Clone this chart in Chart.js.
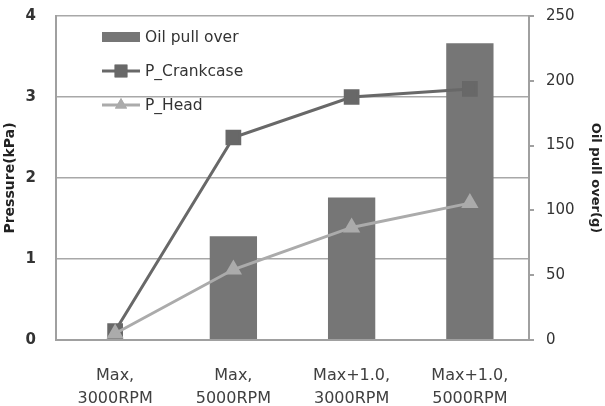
<!DOCTYPE html>
<html>
<head>
<meta charset="utf-8">
<script src="https://cdn.jsdelivr.net/npm/chart.js@4"></script>
<style>
  html, body { margin: 0; padding: 0; background: #fff; }
  #wrap { width: 605px; height: 406px; }
</style>
</head>
<body>
<div id="wrap"><canvas id="chart" width="605" height="406"></canvas></div>
<script>
const categories = [['Max,', '3000RPM'], ['Max,', '5000RPM'], ['Max+1.0,', '3000RPM'], ['Max+1.0,', '5000RPM']];
const oilPullOver = [0, 80, 110, 229];
const pCrankcase = [0.11, 2.5, 3.0, 3.1];
const pHead = [0.08, 0.87, 1.39, 1.69];
const pressureTicks = [0, 1, 2, 3, 4];
const oilTicks = [0, 50, 100, 150, 200, 250];

const FONT = '"DejaVu Sans", sans-serif';

// legend inside the plot, drawn like the original (swatch / line + marker)
const innerLegend = {
  id: 'innerLegend',
  afterDatasetsDraw(chart) {
    const ctx = chart.ctx;
    const x0 = 102, x1 = 140, tx = 145;
    const rows = [37, 71, 105];
    ctx.save();
    ctx.font = '15.5px ' + FONT;
    ctx.textBaseline = 'middle';
    chart.data.datasets.forEach((ds, i) => {
      const y = rows[i];
      if (ds.type === 'bar') {
        ctx.fillStyle = ds.backgroundColor;
        ctx.fillRect(x0, y - 5, x1 - x0, 10);
      } else {
        ctx.strokeStyle = ds.borderColor;
        ctx.lineWidth = ds.borderWidth;
        ctx.beginPath();
        ctx.moveTo(x0, y);
        ctx.lineTo(x1, y);
        ctx.stroke();
        ctx.fillStyle = ds.pointBackgroundColor;
        Chart.helpers.drawPoint(ctx, {
          pointStyle: ds.pointStyle,
          radius: ds.pointRadius,
          borderWidth: 0
        }, (x0 + x1) / 2, y);
        ctx.fill();
      }
      ctx.fillStyle = '#333';
      ctx.fillText(ds.label, tx, y + 1);
    });
    ctx.restore();
  }
};

// keep the plot box where the original has it
function fixVertical(width) {
  return function (axis) {
    axis.width = width;
    axis.paddingTop = 0;
    axis.paddingBottom = 0;
  };
}

new Chart(document.getElementById('chart'), {
  data: {
    labels: categories,
    datasets: [
      {
        type: 'bar',
        label: 'Oil pull over',
        data: oilPullOver,
        yAxisID: 'y1',
        backgroundColor: '#767676',
        categoryPercentage: 1,
        barPercentage: 0.4,
        order: 2
      },
      {
        type: 'line',
        label: 'P_Crankcase',
        data: pCrankcase,
        yAxisID: 'y',
        borderColor: '#686868',
        backgroundColor: '#686868',
        pointBackgroundColor: '#686868',
        pointBorderColor: '#686868',
        borderWidth: 3,
        pointStyle: 'rect',
        pointRadius: 9,
        tension: 0,
        order: 1
      },
      {
        type: 'line',
        label: 'P_Head',
        data: pHead,
        yAxisID: 'y',
        borderColor: '#ababab',
        backgroundColor: '#ababab',
        pointBackgroundColor: '#ababab',
        pointBorderColor: '#ababab',
        borderWidth: 3,
        pointStyle: 'triangle',
        pointRadius: 7,
        tension: 0,
        order: 0
      }
    ]
  },
  options: {
    responsive: false,
    animation: false,
    layout: { padding: { top: 16, left: 0, right: 0, bottom: 0 } },
    plugins: {
      legend: { display: false },
      tooltip: { enabled: false }
    },
    scales: {
      x: {
        afterFit(axis) { axis.height = 66; },
        grid: { display: false },
        border: { display: true, color: '#a0a0a0', width: 2 },
        ticks: {
          color: '#404040',
          font: { size: 16, family: FONT, lineHeight: 1.45 },
          padding: 16,
          maxRotation: 0
        }
      },
      y: {
        position: 'left',
        min: 0,
        max: 4,
        afterFit: fixVertical(56),
        afterBuildTicks(axis) { axis.ticks = pressureTicks.map(v => ({ value: v })); },
        grid: { color: '#a8a8a8', lineWidth: 1.5, drawTicks: false },
        border: { display: true, color: '#a0a0a0', width: 2 },
        ticks: {
          color: '#333',
          font: { size: 15, weight: 'bold', family: FONT },
          padding: 20
        },
        title: {
          display: true,
          text: 'Pressure(kPa)',
          color: '#222',
          font: { size: 14, weight: 'bold', family: FONT },
          padding: { top: 2, bottom: 0 }
        }
      },
      y1: {
        position: 'right',
        min: 0,
        max: 250,
        afterFit: fixVertical(76),
        afterBuildTicks(axis) { axis.ticks = oilTicks.map(v => ({ value: v })); },
        grid: { drawOnChartArea: false, color: '#a0a0a0', tickLength: 5, lineWidth: 2 },
        border: { display: true, color: '#a0a0a0', width: 2 },
        ticks: {
          color: '#333',
          font: { size: 15, family: FONT },
          padding: 12
        },
        title: {
          display: true,
          text: 'Oil pull over(g)',
          color: '#222',
          font: { size: 13, weight: 'bold', family: FONT },
          padding: { top: 2, bottom: 0 }
        }
      }
    }
  },
  plugins: [innerLegend]
});
</script>
</body>
</html>
